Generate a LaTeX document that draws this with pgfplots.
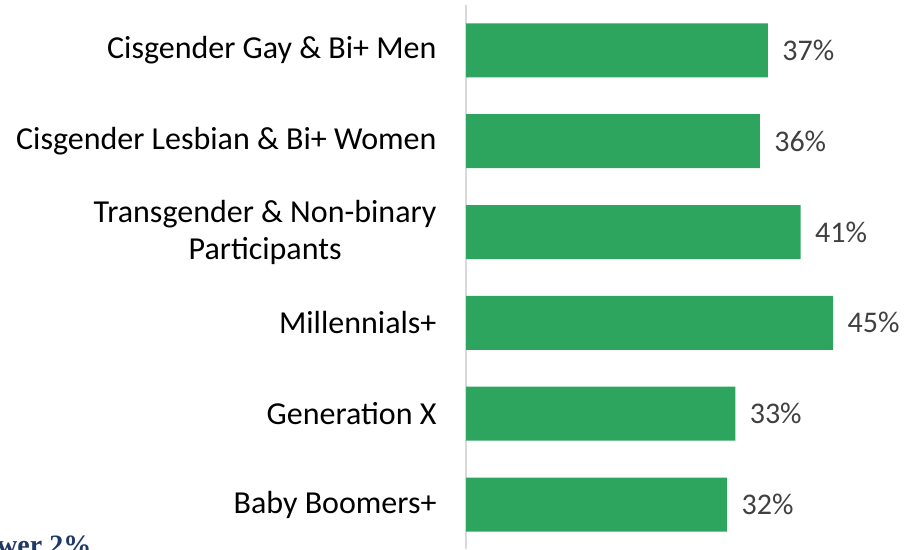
\documentclass[border=0pt]{standalone}
\usepackage{pgfplots}
\pgfplotsset{compat=1.18}
\usepackage{fontspec}
\setmainfont{Carlito}
\newfontfamily\capfont{Liberation Serif}
\definecolor{bargreen}{HTML}{2EA55E}
\definecolor{valgray}{HTML}{404040}
\definecolor{axgray}{HTML}{D9D9D9}
\definecolor{capblue}{HTML}{1F3864}

\begin{document}
\begin{tikzpicture}[x=1pt,y=1pt]
\useasboundingbox (0,0) rectangle (907,549);
\begin{axis}[
    at={(466pt,0pt)}, anchor=south west,
    scale only axis,
    width=408pt, height=544pt,
    xbar, bar width=54pt,
    xmin=0, xmax=50,
    ymin=-0.49, ymax=5.5,
    axis x line=none,
    axis y line*=left,
    y axis line style={draw=axgray, line width=2.5pt, -},
    ytick={0,1,2,3,4,5},
    yticklabels={Baby Boomers+, Generation X, Millennials+,
      {Transgender \& Non-binary\\Participants},
      Cisgender Lesbian \& Bi+ Women, Cisgender Gay \& Bi+ Men},
    major tick length=0pt,
    yticklabel style={align=center, font=\fontsize{32}{37}\selectfont, text=black, xshift=-26pt},
    /pgf/number format/assume math mode=true,
    nodes near coords={\pgfmathprintnumber{\pgfplotspointmeta}\%},
    nodes near coords style={font=\fontsize{30}{36}\selectfont, text=valgray, anchor=west, xshift=11pt},
    point meta=explicit,
    clip=false,
]
\addplot[fill=bargreen, draw=none] coordinates {
    (32,0) [32] (33,1) [33] (45,2) [45] (41,3) [41] (36,4) [36] (37,5) [37]
};
\end{axis}
\node[anchor=base west, inner sep=0pt, text=capblue, font=\capfont\bfseries\fontsize{28}{32}\selectfont] at (-3,-5) {wer 2\%};
\end{tikzpicture}
\end{document}
